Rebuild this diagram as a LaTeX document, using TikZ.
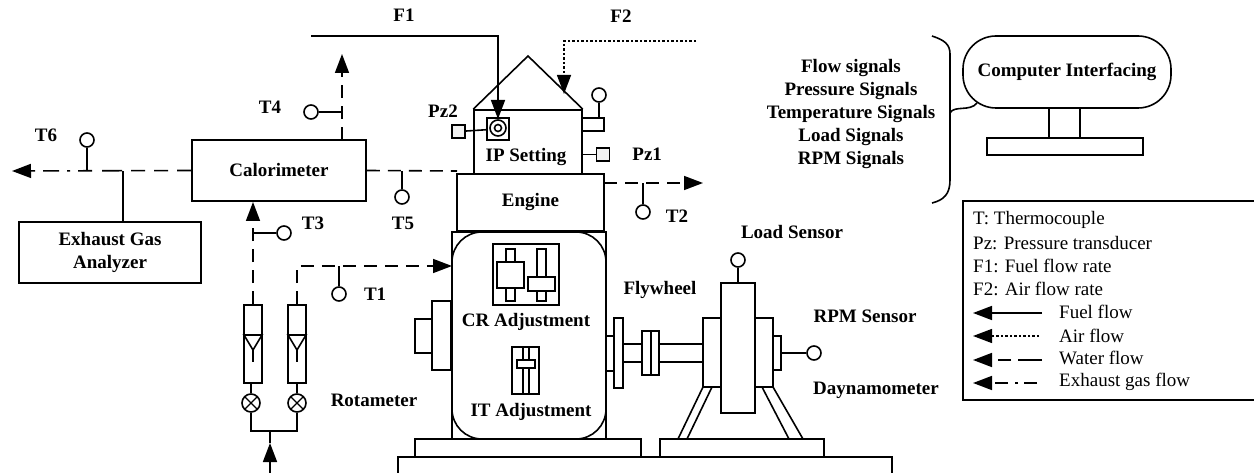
\documentclass[tikz,border=0pt]{standalone}
\usepackage{fontspec}
\setmainfont{Liberation Serif}
\usetikzlibrary{positioning}
\usetikzlibrary{arrows.meta}

\tikzset{
    part/.style={draw, line width=1.6pt, fill=white},
    box/.style={draw, line width=1.6pt, fill=white, inner sep=0pt, font=\fontsize{19}{23}\selectfont\bfseries, align=center},
    tag/.style={inner sep=0pt, font=\fontsize{19}{23}\selectfont\bfseries, align=center},
    legtext/.style={inner sep=0pt, anchor=west, font=\fontsize{19}{23}\selectfont},
    sensor/.style={draw, line width=1.6pt, circle, inner sep=0pt, minimum size=14pt},
    port/.style={draw, line width=1.4pt, fill=black!5, inner sep=0pt, minimum size=13pt},
    valve/.style={draw, line width=1.6pt, circle, inner sep=0pt, minimum size=18pt,
        path picture={
            \draw [line width=1.3pt] (path picture bounding box.north west) -- (path picture bounding box.south east);
            \draw [line width=1.3pt] (path picture bounding box.north east) -- (path picture bounding box.south west);
        }},
    line/.style={line width=1.6pt},
    tip/.style={-{Triangle[length=19pt,width=14pt]}},
    fuel/.style={line, tip},
    air/.style={line width=1.4pt, dash pattern=on 2.5pt off 2pt, tip},
    water/.style={line width=1.6pt, dash pattern=on 13pt off 8pt, tip},
    wateropen/.style={line width=1.6pt, dash pattern=on 13pt off 8pt},
    exhaust/.style={line width=1.6pt, dash pattern=on 14pt off 9pt on 14pt off 9pt on 14pt off 9pt on 20pt off 10pt on 14pt off 8pt on 3pt off 8pt on 16pt off 8pt, tip},
}

\begin{document}
\begin{tikzpicture}[x=1pt, y=-1pt]
    \useasboundingbox (0,0) rectangle (1254,473);

    \node [box, minimum width=174pt, minimum height=61pt] (calorimeter) at (279,170.5) {Calorimeter};
    \node [box, minimum width=182pt, minimum height=61pt] (analyzer) at (110,252.5) {Exhaust Gas\\Analyzer};
    \node [box, minimum width=108pt, minimum height=64pt] (ipset) at (528,142) {};
    \node [tag] (iplabel) at (526,157) {IP Setting};
    \node [box, minimum width=147pt, minimum height=57pt] (engine) at (530.5,202.5) {Engine};

    \coordinate (apex) at (528,56);
    \draw [line] (ipset.north west) -- (apex) -- (ipset.north east);

    % injector
    \node [part, inner sep=0pt, minimum size=22pt] (injector) at (498,129) {};
    \draw [line] (498,128) circle (8pt);
    \draw [line] (498,128) circle (3.5pt);
    \node [port] (pz2) at (458.5,131.5) {};
    \draw [line] (pz2) -- (injector);
    \node [tag] (pz2label) at (443,111) {Pz2};

    \node [part, inner sep=0pt, minimum width=22pt, minimum height=13pt] (capsule) at (593,124.5) {};
    \node [sensor] (capsensor) at (599,95) {};
    \draw [line] (capsensor) -- (capsensor |- capsule.north);

    \node [port] (pz1) at (603,154.5) {};
    \draw [line] (pz1) -- (pz1 -| ipset.east);
    \node [tag, right=22pt of pz1] (pz1label) {Pz1};

    % flows at the top
    \coordinate (f1start) at (311,36);
    \coordinate (f1bend) at (498,36);
    \coordinate (f1end) at (498,119);
    \draw [fuel] (f1start) -- (f1bend) -- (f1end);
    \node [tag] (f1label) at (404,15) {F1};

    \coordinate (f2start) at (696,41);
    \coordinate (f2bend) at (564,41);
    \coordinate (f2end) at (564,94);
    \draw [air] (f2start) -- (f2bend) -- (f2end);
    \node [tag] (f2label) at (621,16) {F2};

    % exhaust and water
    \coordinate (t6end) at (12,171);
    \draw [exhaust] (calorimeter.west) -- (t6end);
    \coordinate (t6joint) at (87,171);
    \node [sensor] (t6) at (87,140) {};
    \draw [line] (t6) -- (t6joint);
    \node [tag] (t6label) at (46,135) {T6};
    \coordinate (analyzerjoint) at (123,171);
    \draw [line] (analyzer.north -| analyzerjoint) -- (analyzerjoint);

    \coordinate (t4start) at (342,140);
    \coordinate (t4end) at (342,54);
    \coordinate (t4joint) at (342,112);
    \draw [water] (t4start) -- (t4end);
    \node [sensor] (t4) at (311,112) {};
    \draw [line] (t4) -- (t4joint);
    \node [tag] (t4label) at (270,107) {T4};

    \coordinate (t5end) at (457,171);
    \draw [wateropen] (calorimeter.east) -- (t5end);
    \node [sensor] (t5) at (402,197) {};
    \draw [line] (t5) -- (t5 |- t5end);
    \node [tag] (t5label) at (403,223) {T5};

    \coordinate (t2start) at (604,183);
    \coordinate (t2end) at (703,183);
    \draw [water] (t2start) -- (t2end);
    \node [sensor] (t2) at (643,212) {};
    \draw [line] (t2) -- (t2 |- t2end);
    \node [tag] (t2label) at (677,216) {T2};

    % rotameters
    \node [part, inner sep=0pt, minimum width=18pt, minimum height=78pt] (rota) at (253,344) {};
    \node [part, inner sep=0pt, minimum width=18pt, minimum height=78pt] (rotb) at (297,344) {};
    \draw [line] (244,335) -- (262,335) -- (253,350) -- cycle;
    \draw [line] (253,350) -- (253,362);
    \draw [line] (288,335) -- (306,335) -- (297,350) -- cycle;
    \draw [line] (297,350) -- (297,362);
    \node [valve] (valvea) at (251,403) {};
    \node [valve] (valveb) at (297,403) {};
    \draw [line] (valvea) -- (valvea |- rota.south);
    \draw [line] (valveb) -- (valveb |- rotb.south);
    \coordinate (feedjoint) at (270,431);
    \coordinate (feedstart) at (270,473);
    \coordinate (feedend) at (270,443);
    \draw [line] (valvea) |- (feedjoint);
    \draw [line] (valveb) |- (feedjoint);
    \draw [line] (feedend) -- (feedjoint);
    \draw [fuel] (feedstart) -- (feedend);
    \node [tag] (rotlabel) at (374,400) {Rotameter};

    \coordinate (t3end) at (253,202);
    \coordinate (t3joint) at (253,233);
    \draw [water] (rota.north) -- (t3end);
    \node [sensor] (t3) at (284,233) {};
    \draw [line] (t3) -- (t3joint);
    \node [tag] (t3label) at (313,223) {T3};

    % engine block
    \draw [part] (452,232) rectangle (606,439);
    \draw [part, rounded corners=30pt] (452,232) rectangle (606,439);
    \draw [part] (432,301) rectangle (451,370);
    \draw [part] (415,319) rectangle (432,353);

    \coordinate (t1bend) at (297,266);
    \coordinate (t1end) at (452,266);
    \draw [water] (rotb.north) -- (t1bend) -- (t1end);
    \node [sensor] (t1) at (339,294) {};
    \draw [line] (t1) -- (t1 |- t1end);
    \node [tag, right=17pt of t1] (t1label) {T1};

    \draw [part] (493,244) rectangle (559,305);
    \draw [part] (506,249) rectangle (515,301);
    \draw [part] (497,262) rectangle (524,288);
    \draw [part] (537,249) rectangle (546,301);
    \draw [part] (528,277) rectangle (555,291);
    \node [tag] (crlabel) at (526,322) {CR Adjustment};

    \draw [part] (512,347) rectangle (539,394);
    \draw [part] (523,347) rectangle (529,394);
    \draw [part] (517,360) rectangle (535,368);
    \node [tag] (itlabel) at (531,412) {IT Adjustment};

    % bed
    \draw [line] (398,473) -- (398,457) -- (892,457) -- (892,473);
    \draw [part] (415,439) rectangle (641,457);
    \draw [part] (660,439) rectangle (824,457);

    % flywheel and shaft
    \draw [part] (606,336) rectangle (614,371);
    \draw [part] (614,318) rectangle (623,388);
    \draw [part] (623,344) rectangle (703,362);
    \draw [part] (642,331) rectangle (659,375);
    \draw [line] (651,331) -- (651,375);
    \node [tag] (flylabel) at (660,290) {Flywheel};

    % dynamometer
    \draw [line] (703,387) -- (678,439);
    \draw [line] (712,387) -- (687,439);
    \draw [line] (762,387) -- (789,439);
    \draw [line] (773,387) -- (803,439);
    \draw [part] (703,318) rectangle (773,387);
    \draw [part] (773,336) rectangle (781,370);
    \node [part, inner sep=0pt, minimum width=34pt, minimum height=130pt] (drum) at (738,348) {};
    \node [sensor] (load) at (738,260) {};
    \draw [line] (load) -- (drum);
    \node [sensor] (rpm) at (814,353) {};
    \coordinate (rpmjoint) at (781,353);
    \draw [line] (rpm) -- (rpmjoint);
    \node [tag] (loadlabel) at (792,232) {Load Sensor};
    \node [tag] (rpmlabel) at (865,316) {RPM Sensor};
    \node [tag] (dynolabel) at (876,390) {Daynamometer};

    % computer
    \node [box, minimum width=208pt, minimum height=72pt, rounded corners=33pt] (pc) at (1067,72) {Computer Interfacing};
    \draw [part] (1049,108) rectangle (1080,138);
    \draw [part] (987,138) rectangle (1143,155);

    \node [tag] (signals) at (851,114) {Flow signals\\Pressure Signals\\Temperature Signals\\Load Signals\\RPM Signals};
    \coordinate (bracetop) at (932,36);
    \coordinate (bracemid) at (950,113);
    \coordinate (bracebot) at (932,203);
    \coordinate (bracepc) at (977,103);
    \draw [line] (bracetop) .. controls (944,40) and (950,44) .. (950,54) -- (bracemid) -- (950,180) .. controls (950,194) and (944,200) .. (bracebot);
    \draw [line] (bracemid) .. controls (954,105) and (970,112) .. (bracepc);

    % legend
    \draw [line width=1.8pt] (1254,201) -- (963,201) -- (963,400) -- (1254,400);
    \node [legtext] (legt) at (973,220) {T: Thermocouple};
    \node [legtext] (legpz) at (973,243) {Pz: Pressure transducer};
    \node [legtext] (legfa) at (973,266) {F1: Fuel flow rate};
    \node [legtext] (legfb) at (973,289) {F2: Air flow rate};
    \node [legtext] (legfuel) at (1059,312) {Fuel flow};
    \node [legtext] (legair) at (1059,336) {Air flow};
    \node [legtext] (legwater) at (1059,358) {Water flow};
    \node [legtext] (legexhaust) at (1059,382) {Exhaust gas flow};
    \coordinate (tipfuel) at (973,313);
    \coordinate (tipair) at (973,336);
    \coordinate (tipwater) at (973,360);
    \coordinate (tipexhaust) at (973,383);
    \draw [fuel] (1042,313) -- (tipfuel);
    \draw [air] (1039,336) -- (tipair);
    \draw [line width=1.6pt, tip, dash pattern=on 24pt off 7pt on 13pt off 8pt] (1042,360) -- (tipwater);
    \draw [line width=1.6pt, tip, dash pattern=on 13pt off 6pt on 3pt off 7pt on 13pt off 8pt] (1037,383) -- (tipexhaust);
\end{tikzpicture}
\end{document}
